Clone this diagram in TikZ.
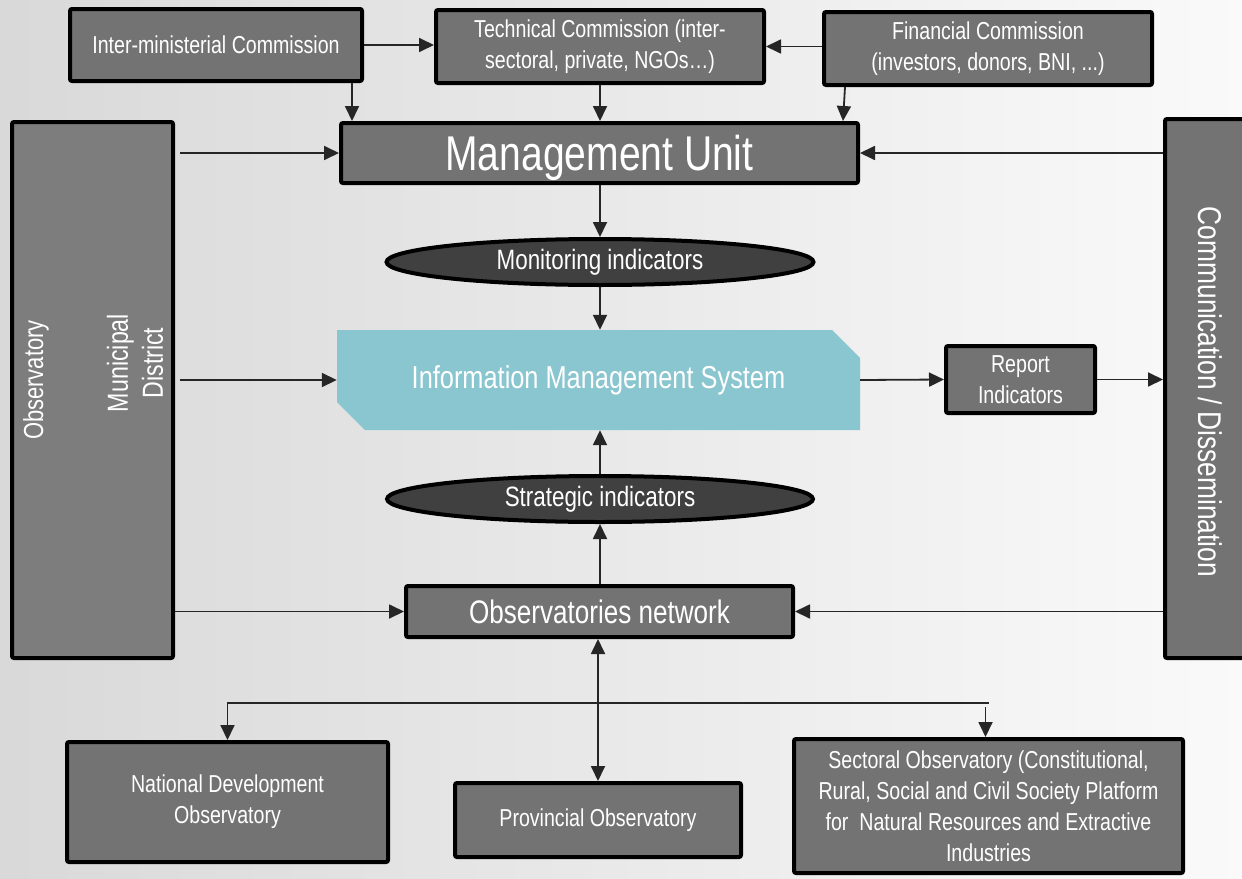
\documentclass[tikz,border=0pt]{standalone}
\usepackage{fontspec}
\setmainfont{Liberation Sans}[FakeStretch=0.8]
\usetikzlibrary{arrows.meta,shapes.geometric,shapes.misc}
\definecolor{boxgray}{HTML}{737373}
\definecolor{sidegray}{HTML}{7D7D7D}
\definecolor{ellgray}{HTML}{404040}
\definecolor{imsblue}{HTML}{8AC6CF}
\definecolor{linecol}{HTML}{262626}
\tikzset{
  box/.style={draw=black, line width=4pt, fill=boxgray, rounded corners=2pt,
    text=white, align=center, inner sep=0pt},
  ell/.style={ellipse, draw=black, line width=4pt, fill=ellgray, text=white, inner sep=0pt},
  arr/.style={draw=linecol, line width=1.8pt, -{Triangle[length=15pt,width=14pt]}},
  darr/.style={draw=linecol, line width=1.8pt, {Triangle[length=15pt,width=14pt]}-{Triangle[length=15pt,width=14pt]}},
  plain/.style={draw=linecol, line width=1.8pt},
  fs/.style={font=\fontsize{24.5}{31}\selectfont},
  fm/.style={font=\fontsize{28}{34}\selectfont},
}
\begin{document}
\begin{tikzpicture}[x=1pt,y=-1pt]
\useasboundingbox (0,0) rectangle (1242,878);
\shade[left color=black!15, right color=black!2] (0,0) rectangle (1242,878);

% top commissions
\node[box,fs,minimum width=292,minimum height=72] (inter) at (216,45) {Inter-ministerial Commission};
\node[box,fs,minimum width=328,minimum height=73] (tech) at (600,46.5) {Technical Commission (inter-\\sectoral, private, NGOs\dots)};
\node[box,fs,minimum width=328,minimum height=73] (fin) at (988,48.5) {Financial Commission\\(investors, donors, BNI, ...)};

% management unit
\node[box,font=\fontsize{48.8}{56}\selectfont,minimum width=517,minimum height=60] (mu) at (599.5,153) {\raisebox{-5pt}[\height][\depth]{Management Unit}};

% side boxes
\node[box,fill=sidegray,minimum width=161,minimum height=536] (left) at (92.5,390) {};
\node[text=white,rotate=90,font=\fontsize{27.5}{33}\selectfont] (obst) at (36,380) {Observatory};
\node[text=white,rotate=90,align=center,font=\fontsize{29}{35}\selectfont] (munt) at (135,363) {Municipal\\District};
\node[box,minimum width=90,minimum height=539] (comm) at (1210,388.5) {};
\node[text=white,rotate=-90,font=\fontsize{32.9}{38}\selectfont] (commt) at (1210,392) {Communication / Dissemination};

% centre column
\node[ell,fm,minimum width=427,minimum height=46] (mon) at (600,262) {Monitoring indicators};
\node[chamfered rectangle, chamfered rectangle corners={north east,south west},
      chamfered rectangle xsep=14pt, chamfered rectangle ysep=14pt,
      fill=imsblue, text=white, inner sep=0pt, minimum width=523, minimum height=100,
      font=\fontsize{31.7}{38}\selectfont] (ims) at (598.5,380) {Information Management System};
\node[box,fs,minimum width=149,minimum height=67] (rep) at (1020.5,379.5) {Report\\Indicators};
\node[ell,fm,minimum width=426,minimum height=46] (str) at (600,499) {Strategic indicators};
\node[box,font=\fontsize{32.6}{38}\selectfont,minimum width=387,minimum height=51] (on) at (599.5,611.5) {Observatories network};

% bottom observatories
\node[box,fs,minimum width=321,minimum height=120] (nat) at (227.5,802) {National Development\\Observatory};
\node[box,fs,minimum width=286,minimum height=74] (prov) at (598,820) {Provincial Observatory};
\node[box,fs,minimum width=389,minimum height=134] (sec) at (988.5,806) {Sectoral Observatory (Constitutional,\\Rural, Social and Civil Society Platform\\for\ \ Natural Resources and Extractive\\Industries};

% connectors top
\draw[arr] (inter.east) -- (tech.west |- inter.east);
\draw[arr] (fin.west |- tech.east) -- (tech.east);
\draw[arr] ([xshift=-12pt]inter.south east) -- ([xshift=-12pt]inter.south east |- mu.north);
\draw[arr] (tech.south) -- (tech.south |- mu.north);
\draw[arr] ([xshift=23pt]fin.south west) -- ([xshift=21pt]fin.south west |- mu.north);

% side connectors
\draw[arr] ([xshift=5pt]left.east |- mu.west) -- (mu.west);
\draw[arr] (comm.west |- mu.east) -- (mu.east);
\draw[arr] ([xshift=5pt]left.east |- ims.west) -- (ims.west);
\draw[arr] (left.east |- on.west) -- (on.west);
\draw[arr] (comm.west |- on.east) -- (on.east);

% centre column connectors
\draw[arr] (mon.north |- mu.south) -- (mon.north);
\draw[arr] (mon.south) -- (mon.south |- ims.north);
\draw[arr] (str.north) -- (str.north |- ims.south);
\draw[arr] (str.south |- on.north) -- (str.south);
\draw[arr] (ims.east) -- (rep.west);
\draw[arr] (rep.east) -- (comm.west |- rep.east);

% bottom distribution
\draw[darr] (on.south -| prov.north) -- (prov.north);
\coordinate (br) at (598,703);
\draw[arr] (br) -| (nat.north);
\draw[plain] (br) -- (br -| sec.north);
\draw[arr] ([xshift=-3pt,yshift=-4pt]br -| sec.north) -- ([xshift=-3pt]sec.north);
\end{tikzpicture}
\end{document}
